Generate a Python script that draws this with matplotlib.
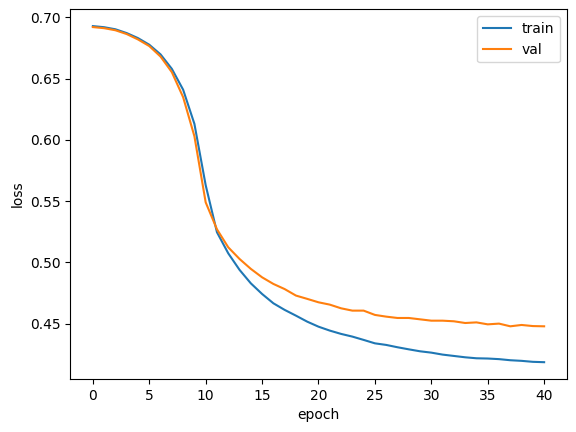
import matplotlib
matplotlib.use("Agg")
import matplotlib.pyplot as plt

epochs = list(range(41))
train_loss = [0.6929, 0.6920, 0.6903, 0.6872, 0.6831, 0.6777, 0.6698, 0.6580, 0.6410, 0.6131,
              0.5630, 0.5246, 0.5074, 0.4939, 0.4829, 0.4742, 0.4666, 0.4612, 0.4565, 0.4516,
              0.4475, 0.4443, 0.4416, 0.4394, 0.4367, 0.4339, 0.4326, 0.4307, 0.4290, 0.4274,
              0.4263, 0.4247, 0.4236, 0.4225, 0.4217, 0.4215, 0.4210, 0.4201, 0.4196, 0.4188,
              0.4185]
val_loss = [0.6921, 0.6912, 0.6895, 0.6864, 0.6820, 0.6766, 0.6680, 0.6553, 0.6349, 0.6030,
            0.5490, 0.5270, 0.5123, 0.5028, 0.4947, 0.4878, 0.4824, 0.4782, 0.4729, 0.4702,
            0.4674, 0.4655, 0.4625, 0.4606, 0.4606, 0.4571, 0.4557, 0.4546, 0.4546, 0.4535,
            0.4524, 0.4524, 0.4519, 0.4505, 0.4510, 0.4494, 0.4500, 0.4478, 0.4489, 0.4480,
            0.4478]

W, H = 576, 432
fig = plt.figure(figsize=(W / 100, H / 100), dpi=100)
ax = fig.add_axes([70.3 / W, (H - 379) / H, 496.4 / W, 369.7 / H])
ax.plot(epochs, train_loss, label="train")
ax.plot(epochs, val_loss, label="val")
ax.set_xlabel("epoch")
ax.set_ylabel("loss")
ax.legend()
fig.savefig("out.png", dpi=100)
